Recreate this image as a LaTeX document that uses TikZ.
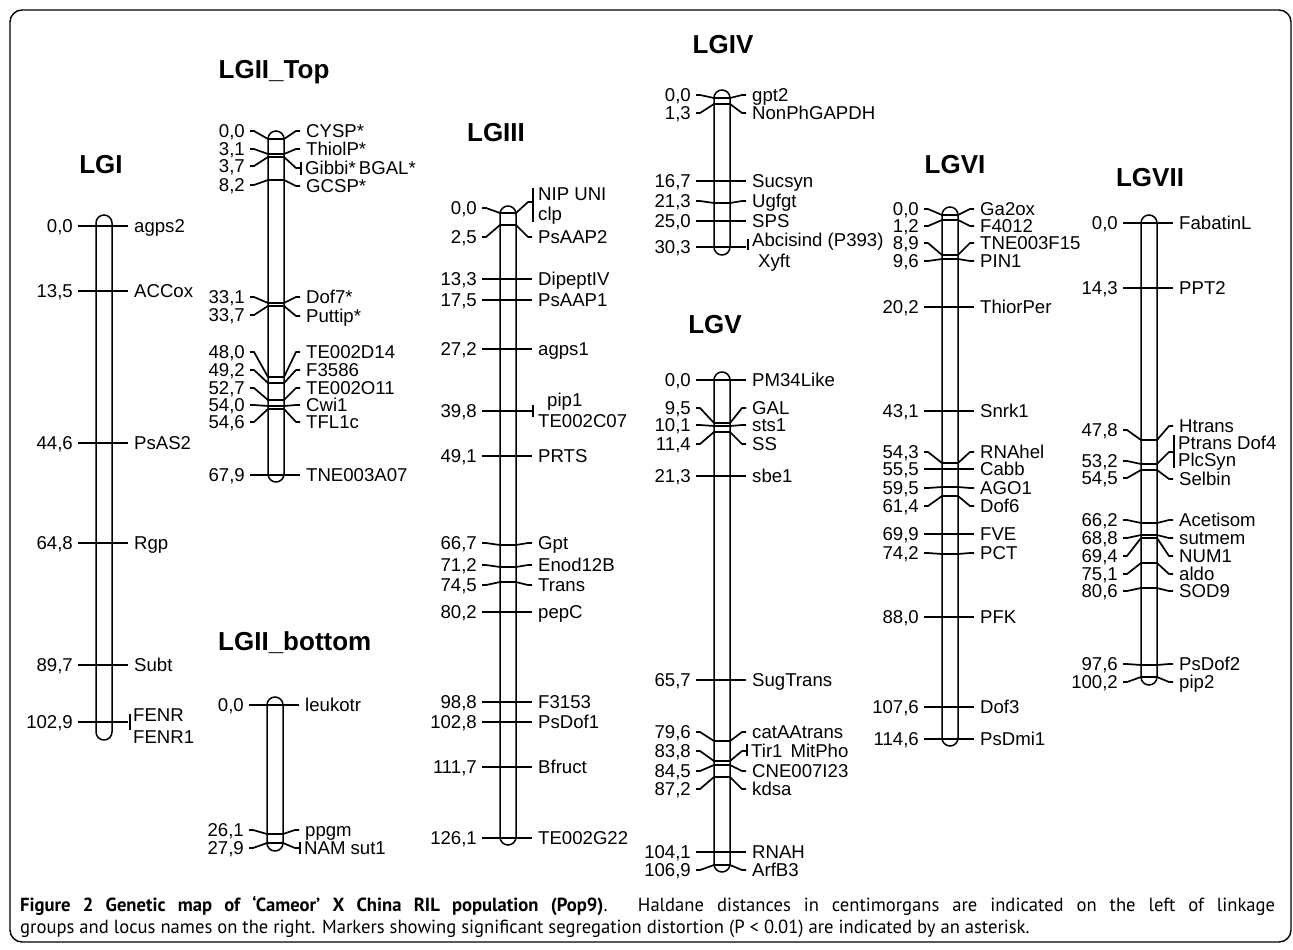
\documentclass[tikz,border=0pt]{standalone}
\usepackage{fontspec}
\setmainfont{Liberation Sans}
\newfontfamily\capfont[FakeStretch=0.98]{PT Sans}
\newcount\mkn
\tikzset{
  tick/.style={line width=1.7pt, line join=round},
  barline/.style={line width=1.5pt, fill=white, rounded corners=8pt},
  vtick/.style={line width=1.4pt},
  lbl/.style={inner sep=0pt, text height=13.3pt, text depth=0pt, font=\fontsize{18.6}{21}\selectfont},
  lgtitle/.style={inner sep=0pt, font=\bfseries\fontsize{26}{30}\selectfont},
}
% c, ybar, yleft, yright, left text, right text
\newcommand\mk[6]{%
  \global\advance\mkn by 1
  \draw[tick] (#1-26,#3) -- (#1-22,#3) -- (#1-8,#2) -- (#1+8,#2) -- (#1+20,#4) -- (#1+24,#4);
  \node[lbl,anchor=east] (l\the\mkn) at (#1-31,#3) {#5};
  \node[lbl,anchor=west] (r\the\mkn) at (#1+30,#4) {#6};
}
% c, top, bottom, name
\newcommand\lgbar[4]{\draw[barline] (#1-8,#2) rectangle (#1+8,#3) coordinate (#4);}
\begin{document}
\begin{tikzpicture}[x=1pt,y=-1pt]
\useasboundingbox (0,0) rectangle (1293,950);
\draw[line width=1.4pt, rounded corners=12pt] (10,10) rectangle (1291,942);

% ---------- LGI
\node[lgtitle] (tI) at (101,165) {LGI};
\lgbar{104}{215}{740}{bI}
\mk{104}{226}{226}{226}{0,0}{agps2}
\mk{104}{291}{291}{291}{13,5}{ACCox}
\mk{104}{443}{443}{443}{44,6}{PsAS2}
\mk{104}{543}{543}{543}{64,8}{Rgp}
\mk{104}{665}{665}{665}{89,7}{Subt}
\mk{104}{722}{722}{722}{102,9}{}
\draw[vtick] (130,714) -- (130,730);
\node[lbl,anchor=west] (fenr) at (133,715) {FENR};
\node[lbl,anchor=west] (fenr1) at (133,737) {FENR1};

% ---------- LGII_Top
\node[lgtitle] (tIIt) at (274,72) {LGII\_Top};
\lgbar{276}{131}{482}{bIIt}
\mk{276}{139}{131}{131}{0,0}{CYSP*}
\mk{276}{154}{149}{149}{3,1}{ThiolP*}
\mk{276}{157}{166}{168}{3,7}{}
\draw[vtick] (301,162) -- (301,175);
\node[lbl,anchor=west] (gibbi) at (305,168) {Gibbi*\,BGAL*};
\mk{276}{180}{185}{186}{8,2}{GCSP*}
\mk{276}{303}{297}{297}{33,1}{Dof7*}
\mk{276}{306}{315}{316}{33,7}{Puttip*}
\mk{276}{377}{352}{352}{48,0}{TE002D14}
\mk{276}{383}{370}{370}{49,2}{F3586}
\mk{276}{400}{388}{388}{52,7}{TE002O11}
\mk{276}{406}{405}{405}{54,0}{Cwi1}
\mk{276}{409}{422}{422}{54,6}{TFL1c}
\mk{276}{475}{475}{475}{67,9}{TNE003A07}

% ---------- LGII_bottom
\node[lgtitle,anchor=west] (tIIb) at (218,643) {LGII\_bottom};
\lgbar{275}{697}{851}{bIIb}
\mk{275}{705}{705}{705}{0,0}{leukotr}
\mk{275}{834}{830}{830}{26,1}{ppgm}
\mk{275}{843}{848}{848}{27,9}{}
\draw[vtick] (300,842) -- (300,854);
\node[lbl,anchor=west] (nam) at (304,848) {NAM sut1};

% ---------- LGIII
\node[lgtitle] (tIII) at (496,133) {LGIII};
\lgbar{508}{206}{845}{bIII}
\mk{508}{213}{208}{202}{0,0}{}
\draw[vtick] (533,188) -- (533,222);
\node[lbl,anchor=west] (nip) at (538,194) {NIP UNI};
\node[lbl,anchor=west] (clp) at (538,214) {clp};
\mk{508}{225}{237}{237}{2,5}{PsAAP2}
\mk{508}{279}{279}{279}{13,3}{DipeptIV}
\mk{508}{300}{300}{300}{17,5}{PsAAP1}
\mk{508}{349}{349}{349}{27,2}{agps1}
\mk{508}{411}{411}{411}{39,8}{}
\draw[vtick] (533,405) -- (533,417);
\node[lbl,anchor=west] (pip1) at (547,400) {pip1};
\node[lbl,anchor=west] (te2c) at (538,421) {TE002C07};
\mk{508}{456}{456}{456}{49,1}{PRTS}
\mk{508}{545}{543}{543}{66,7}{Gpt}
\mk{508}{567}{565}{565}{71,2}{Enod12B}
\mk{508}{582}{585}{585}{74,5}{Trans}
\mk{508}{612}{612}{612}{80,2}{pepC}
\mk{508}{702}{702}{702}{98,8}{F3153}
\mk{508}{722}{722}{722}{102,8}{PsDof1}
\mk{508}{767}{767}{767}{111,7}{Bfruct}
\mk{508}{838}{838}{838}{126,1}{TE002G22}

% ---------- LGIV
\node[lgtitle] (tIV) at (723,45) {LGIV};
\lgbar{722}{90}{255}{bIV}
\mk{722}{98}{95}{95}{0,0}{gpt2}
\mk{722}{104}{113}{113}{1,3}{NonPhGAPDH}
\mk{722}{181}{181}{181}{16,7}{Sucsyn}
\mk{722}{203}{201}{201}{21,3}{Ugfgt}
\mk{722}{221}{221}{221}{25,0}{SPS}
\mk{722}{247}{247}{247}{30,3}{}
\draw[vtick] (748,239) -- (748,250);
\node[lbl,anchor=west] (abc) at (752,240) {Abcisind (P393)};
\node[lbl,anchor=west] (xyft) at (758,261) {Xyft};

% ---------- LGV
\node[lgtitle] (tV) at (715,325) {LGV};
\lgbar{722}{372}{872}{bV}
\mk{722}{380}{380}{380}{0,0}{PM34Like}
\mk{722}{423}{408}{408}{9,5}{GAL}
\mk{722}{426}{425}{425}{10,1}{sts1}
\mk{722}{432}{444}{444}{11,4}{SS}
\mk{722}{476}{476}{476}{21,3}{sbe1}
\mk{722}{680}{680}{680}{65,7}{SugTrans}
\mk{722}{741}{732}{732}{79,6}{catAAtrans}
\mk{722}{761}{751}{751}{83,8}{}
\draw[vtick] (747,744) -- (747,756);
\node[lbl,anchor=west] (tir) at (751,751) {Tir1\hspace{8pt}MitPho};
\mk{722}{765}{771}{771}{84,5}{CNE007I23}
\mk{722}{777}{789}{789}{87,2}{kdsa}
\mk{722}{852}{852}{852}{104,1}{RNAH}
\mk{722}{865}{870}{870}{106,9}{ArfB3}

% ---------- LGVI
\node[lgtitle] (tVI) at (955,165) {LGVI};
\lgbar{950}{207}{746}{bVI}
\mk{950}{215}{209}{209}{0,0}{Ga2ox}
\mk{950}{220}{226}{226}{1,2}{F4012}
\mk{950}{255}{243}{243}{8,9}{TNE003F15}
\mk{950}{259}{261}{261}{9,6}{PIN1}
\mk{950}{307}{307}{307}{20,2}{ThiorPer}
\mk{950}{411}{411}{411}{43,1}{Snrk1}
\mk{950}{463}{452}{452}{54,3}{RNAhel}
\mk{950}{469}{469}{469}{55,5}{Cabb}
\mk{950}{487}{488}{488}{59,5}{AGO1}
\mk{950}{496}{506}{506}{61,4}{Dof6}
\mk{950}{534}{534}{534}{69,9}{FVE}
\mk{950}{554}{553}{553}{74,2}{PCT}
\mk{950}{617}{617}{617}{88,0}{PFK}
\mk{950}{707}{707}{707}{107,6}{Dof3}
\mk{950}{739}{739}{739}{114,6}{PsDmi1}

% ---------- LGVII
\node[lgtitle] (tVII) at (1150,178) {LGVII};
\lgbar{1149}{215}{685}{bVII}
\mk{1149}{223}{223}{223}{0,0}{FabatinL}
\mk{1149}{288}{288}{288}{14,3}{PPT2}
\mk{1149}{440}{430}{426}{47,8}{Htrans}
\mk{1149}{464}{461}{452}{53,2}{}
\draw[vtick] (1174,435) -- (1174,468);
\node[lbl,anchor=west] (ptr) at (1178,443) {Ptrans Dof4};
\node[lbl,anchor=west] (plc) at (1178,460) {PlcSyn};
\mk{1149}{470}{478}{479}{54,5}{Selbin}
\mk{1149}{523}{520}{520}{66,2}{Acetisom}
\mk{1149}{535}{538}{538}{68,8}{sutmem}
\mk{1149}{538}{556}{556}{69,4}{NUM1}
\mk{1149}{563}{574}{574}{75,1}{aldo}
\mk{1149}{588}{591}{591}{80,6}{SOD9}
\mk{1149}{665}{664}{664}{97,6}{PsDof2}
\mk{1149}{677}{682}{682}{100,2}{pip2}

% ---------- caption
\node[inner sep=0pt, anchor=base west, font=\capfont\fontsize{19}{22}\selectfont] (cap1) at (20,911)
  {\hbox to 1255pt{\textbf{Figure 2 Genetic map of ‘Cameor’ X China RIL population (Pop9)}. Haldane distances in centimorgans are indicated on the left of linkage}};
\node[inner sep=0pt, anchor=base west, font=\capfont\fontsize{19}{22}\selectfont] (cap2) at (20,933)
  {groups and locus names on the right. Markers showing significant segregation distortion (P < 0.01) are indicated by an asterisk.};
\end{tikzpicture}
\end{document}
